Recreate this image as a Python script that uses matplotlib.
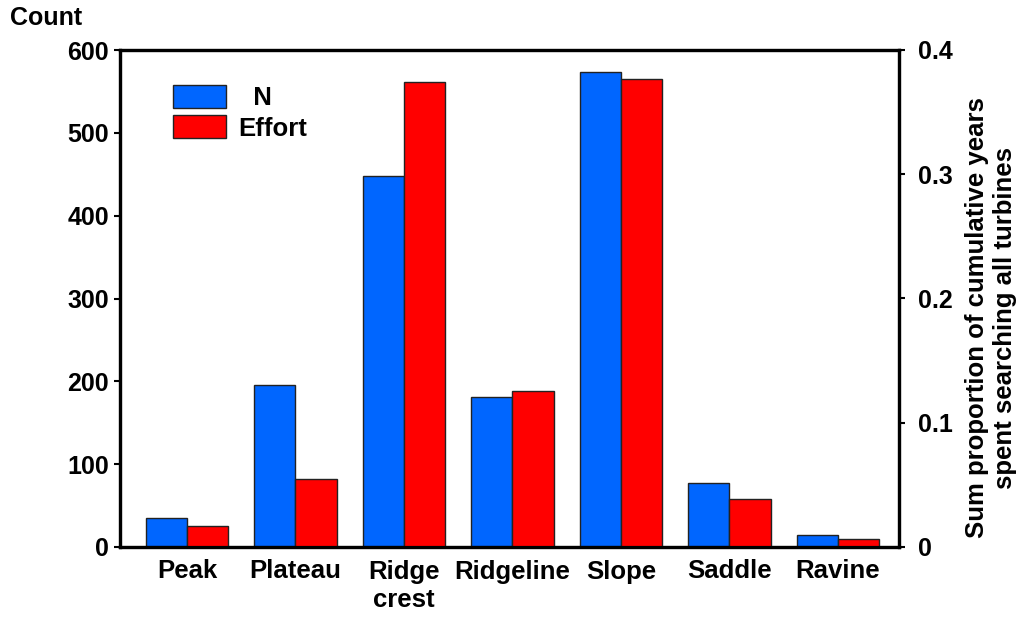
import numpy as np
import matplotlib
matplotlib.use('Agg')
import matplotlib.pyplot as plt

plt.rcParams['font.family'] = ['Liberation Sans', 'DejaVu Sans']
plt.rcParams['font.weight'] = 'bold'

# data
categories = ['Peak', 'Plateau', 'Ridge\ncrest', 'Ridgeline', 'Slope', 'Saddle', 'Ravine']
n_counts = [35, 195, 448, 181, 573, 77, 14]                              # left axis (Count)
effort = [0.017, 0.0545, 0.374, 0.1256, 0.377, 0.0387, 0.0067]          # right axis (proportion)
left_ticks = [0, 100, 200, 300, 400, 500, 600]
right_ticks = [0, 0.1, 0.2, 0.3, 0.4]
right_tick_labels = ['0', '0.1', '0.2', '0.3', '0.4']

W, H = 1032, 619
fig = plt.figure(figsize=(W / 100, H / 100), dpi=100)
ax = fig.add_axes([120 / W, 1 - 547 / H, 779 / W, 497 / H])
ax2 = ax.twinx()

x = np.arange(len(categories))
bw = 0.38
b1 = ax.bar(x - bw / 2, n_counts, width=bw, color='#0066ff', edgecolor='#222222', linewidth=1, label='  N')
b2 = ax2.bar(x + bw / 2, effort, width=bw, color='#ff0000', edgecolor='#222222', linewidth=1, label='Effort')

ax.set_xlim(-0.617, 6.563)
ax.set_ylim(0, 600)
ax2.set_ylim(0, 0.4)

ax.set_yticks(left_ticks)
ax2.set_yticks(right_ticks)
ax2.set_yticklabels(right_tick_labels)
ax.set_xticks(x)
ax.set_xticklabels(categories, fontsize=18.5, fontweight='bold', linespacing=1.25)
ax.tick_params(axis='x', length=0, pad=9)
ax.tick_params(axis='y', labelsize=18, length=4, width=1.5, pad=4)
ax2.tick_params(axis='y', labelsize=18, length=4, width=1.5, pad=10)

for a in (ax, ax2):
    for s in a.spines.values():
        s.set_linewidth(2.3)
        s.set_color('black')

fig.text(10 / W, 1 - 6 / H, 'Count', fontsize=18, fontweight='bold', ha='left', va='top')
fig.text(991 / W, 1 - 318 / H, 'Sum proportion of cumulative years\nspent searching all turbines',
         fontsize=18.5, fontweight='bold', rotation=90, ha='center', va='center',
         multialignment='center', linespacing=1.2)

fig.legend(handles=[b1, b2], loc='upper left', bbox_to_anchor=(173 / W, 1 - 85 / H),
           bbox_transform=fig.transFigure, frameon=False, fontsize=18.5,
           handlelength=2.05, handleheight=1.0, handletextpad=0.5,
           labelspacing=0.2, borderpad=0, borderaxespad=0)

fig.savefig('out.png', dpi=100)
